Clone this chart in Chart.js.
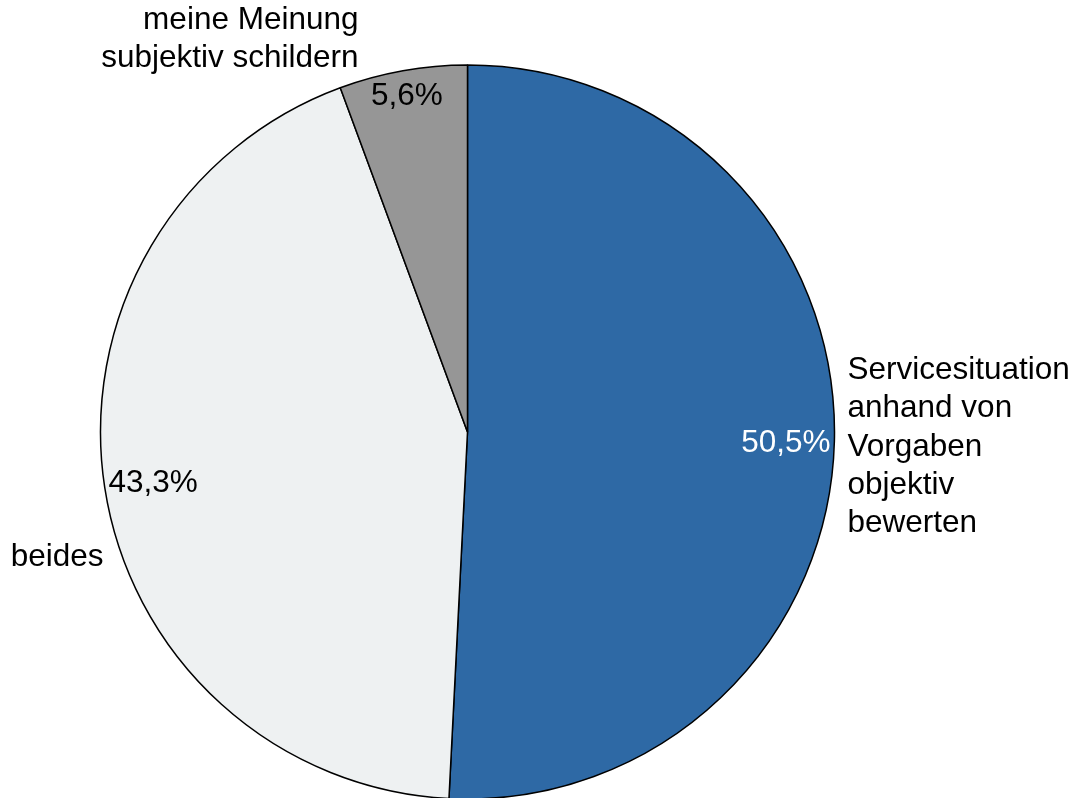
<!DOCTYPE html>
<html>
<head>
<meta charset="utf-8">
<script src="https://cdn.jsdelivr.net/npm/chart.js@4.4.1/dist/chart.umd.min.js"></script>
<style>
html,body{margin:0;padding:0;background:#fff;}
#wrap{width:1074px;height:798px;position:relative;}
</style>
</head>
<body>
<div id="wrap"><canvas id="c" width="1074" height="798"></canvas></div>
<script>
// ---- data ----
const categories = [
  ["Servicesituation", "anhand von", "Vorgaben", "objektiv", "bewerten"],
  ["beides"],
  ["meine Meinung", "subjektiv schildern"]
];
const values = [50.5, 43.3, 5.6];
const sliceColors = ["#2E69A5", "#EEF1F2", "#969696"];
const pctColors = ["#FFFFFF", "#000000", "#000000"];

// ---- label layout (offsets relative to pie centre, in px) ----
const outsideLayout = [
  {dx: 380, dy: -53, align: "left"},
  {dx: -364, dy: 134, align: "right"},
  {dx: -109, dy: -403, align: "right"}
];
const FONT = "31.5px 'Liberation Sans', Arial, sans-serif";
const LINE_H = 38.3;

const labelPlugin = {
  id: "labels",
  afterDatasetsDraw(chart) {
    const ctx = chart.ctx;
    const meta = chart.getDatasetMeta(0);
    ctx.save();
    ctx.font = FONT;
    meta.data.forEach((arc, i) => {
      const cx = arc.x, cy = arc.y, r = arc.outerRadius;
      const mid = (arc.startAngle + arc.endAngle) / 2;
      const ux = Math.cos(mid), uy = Math.sin(mid);
      // percentage label: inside end
      const txt = values[i].toFixed(1).replace(".", ",") + "%";
      const w = ctx.measureText(txt).width;
      const h = 24;
      const lim = r - 3;
      let d = r;
      const fits = (dd) => {
        const bx = cx + ux * dd, by = cy + uy * dd;
        for (const sx of [-1, 1]) for (const sy of [-1, 1]) {
          const px = bx + sx * w / 2 - cx, py = by + sy * h / 2 - cy;
          if (Math.hypot(px, py) > lim) return false;
        }
        return true;
      };
      while (d > 0 && !fits(d)) d -= 0.5;
      ctx.fillStyle = pctColors[i];
      ctx.textAlign = "center";
      ctx.textBaseline = "middle";
      ctx.fillText(txt, cx + ux * d, cy + uy * d + 3);
      // outside category label
      const lay = outsideLayout[i];
      ctx.fillStyle = "#000000";
      ctx.textAlign = lay.align;
      ctx.textBaseline = "alphabetic";
      categories[i].forEach((line, k) => {
        ctx.fillText(line, cx + lay.dx, cy + lay.dy + k * LINE_H);
      });
    });
    ctx.restore();
  }
};

new Chart(document.getElementById("c"), {
  type: "pie",
  data: {
    labels: categories.map(c => c.join(" ")),
    datasets: [{
      data: values,
      backgroundColor: sliceColors,
      borderColor: "#000000",
      borderWidth: 1.5,
      borderAlign: "center"
    }]
  },
  options: {
    responsive: false,
    animation: false,
    radius: 367,
    layout: {padding: {top: 66, bottom: 0, left: 0, right: 139}},
    plugins: {legend: {display: false}, tooltip: {enabled: false}}
  },
  plugins: [labelPlugin]
});
</script>
</body>
</html>
